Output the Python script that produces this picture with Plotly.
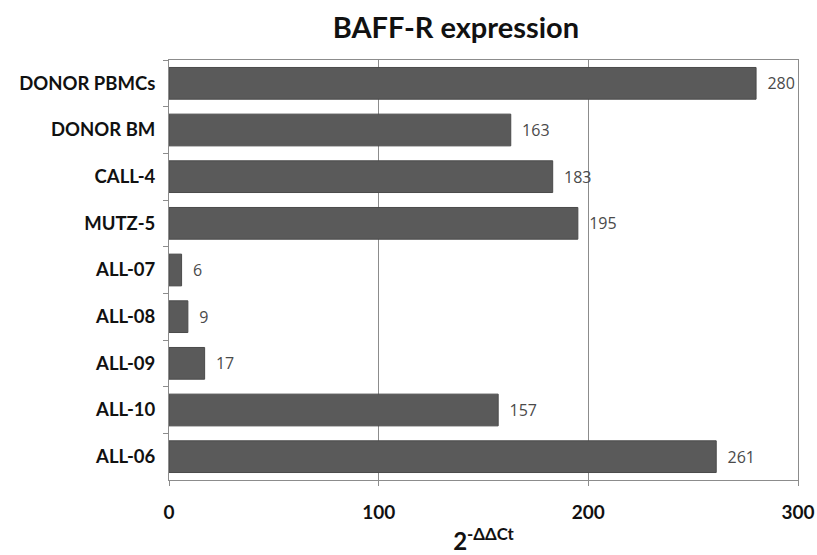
import plotly.graph_objects as go

categories = ["DONOR PBMCs", "DONOR BM", "CALL-4", "MUTZ-5", "ALL-07", "ALL-08", "ALL-09", "ALL-10", "ALL-06"]
values = [280, 163, 183, 195, 6, 9, 17, 157, 261]
x_ticks = [0, 100, 200, 300]

fig = go.Figure()
fig.add_trace(go.Bar(
    y=categories, x=values, orientation="h",
    marker=dict(color="#5a5a5a", line=dict(color="#4a4a4a", width=1)),
    texttemplate="  %{x}", textposition="outside",
    textfont=dict(family="Open Sans", size=16, color="#4a4a4a", weight="normal"),
    cliponaxis=False, width=0.68,
))

fig.update_layout(
    width=817, height=555,
    margin=dict(l=169, r=19, t=60, b=75),
    plot_bgcolor="white", paper_bgcolor="white",
    showlegend=False,
    title=dict(text="<b>BAFF-R expression</b>", x=0.558, xanchor="center", y=0.95, yanchor="middle",
               font=dict(family="Lato", size=29, color="#111111")),
    xaxis=dict(range=[0, 300], tickvals=x_ticks, showgrid=True, gridcolor="#8c8c8c", gridwidth=1,
               zeroline=False, showline=True, linecolor="#8c8c8c", mirror=True, automargin=False,
               ticks="outside", ticklen=5, tickcolor="#8c8c8c", ticklabelstandoff=10,
               tickfont=dict(family="Lato", size=19, color="#111111", weight="bold"),
               title=dict(text="<b>2<sup>-ΔΔCt</sup></b>", standoff=18,
                          font=dict(family="Lato", size=24, color="#111111"))),
    yaxis=dict(autorange="reversed", showline=True, linecolor="#8c8c8c", mirror=True, automargin=False,
               ticks="outside", tickson="boundaries", ticklen=5, tickcolor="#8c8c8c",
               showgrid=False, ticksuffix="  ",
               tickfont=dict(family="Lato", size=18.5, color="#111111", weight="bold")),
)
fig.write_html("out.html")
